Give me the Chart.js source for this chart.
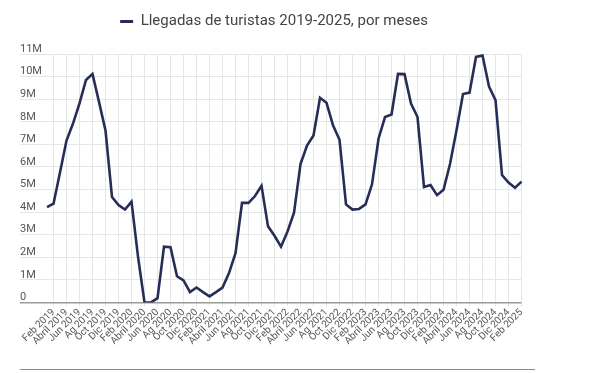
<!DOCTYPE html>
<html>
<head>
<meta charset="utf-8">
<script src="https://cdn.jsdelivr.net/npm/chart.js@4.4.0/dist/chart.umd.min.js"></script>
<style>
    html, body { margin: 0; padding: 0; background: #fff; }
    #wrap { position: absolute; left: 0; top: 0; width: 530px; height: 347px; }
    #rule { position: absolute; left: 20px; top: 369px; width: 515px; height: 1px; background: #8c8c8c; }
</style>
</head>
<body>
<div id="wrap"><canvas id="chart"></canvas></div>
<div id="rule"></div>
<script>
// Months (Jan 2019 - Feb 2025), as labelled in the source (incl. its "Ag 2021" typo)
const months = [
    'Ene 2019', 'Feb 2019', 'Mar 2019', 'Abril 2019', 'May 2019', 'Jun 2019', 'Jul 2019', 'Ag 2019', 'Sep 2019', 'Oct 2019', 'Nov 2019', 'Dic 2019',
    'Ene 2020', 'Feb 2020', 'Mar 2020', 'Abril 2020', 'May 2020', 'Jun 2020', 'Jul 2020', 'Ag 2020', 'Sep 2020', 'Oct 2020', 'Nov 2020', 'Dic 2020',
    'Ene 2021', 'Feb 2021', 'Mar 2021', 'Abril 2021', 'May 2021', 'Jun 2021', 'Jul 2021', 'Ag 2021', 'Sep 2021', 'Oct 2021', 'Nov 2021', 'Dic 2021',
    'Ene 2022', 'Feb 2022', 'Mar 2022', 'Abril 2022', 'May 2022', 'Jun 2022', 'Jul 2022', 'Ag 2021', 'Sep 2022', 'Oct 2022', 'Nov 2022', 'Dic 2022',
    'Ene 2023', 'Feb 2023', 'Mar 2023', 'Abril 2023', 'May 2023', 'Jun 2023', 'Jul 2023', 'Ag 2023', 'Sep 2023', 'Oct 2023', 'Nov 2023', 'Dic 2023',
    'Ene 2024', 'Feb 2024', 'Mar 2024', 'Abril 2024', 'May 2024', 'Jun 2024', 'Jul 2024', 'Ag 2024', 'Sep 2024', 'Oct 2024', 'Nov 2024', 'Dic 2024',
    'Ene 2025', 'Feb 2025'
];

// Tourist arrivals, millions
const arrivals = [
    4.22, 4.37, 5.75, 7.17, 7.92, 8.81, 9.85, 10.12, 8.88, 7.62, 4.67, 4.31,
    4.11, 4.46, 2.03, 0.0, 0.0, 0.19, 2.47, 2.45, 1.16, 0.98, 0.46, 0.66,
    0.46, 0.27, 0.46, 0.66, 1.30, 2.18, 4.41, 4.41, 4.71, 5.16, 3.37, 2.95,
    2.47, 3.14, 3.97, 6.13, 6.95, 7.39, 9.06, 8.84, 7.84, 7.20, 4.34, 4.11,
    4.14, 4.34, 5.23, 7.25, 8.21, 8.32, 10.12, 10.11, 8.81, 8.21, 5.11, 5.20,
    4.75, 4.99, 6.13, 7.62, 9.23, 9.29, 10.87, 10.93, 9.56, 8.96, 5.64, 5.31,
    5.08, 5.35
];

const seriesName = 'Llegadas de turistas 2019-2025, por meses';
const lineColor = '#262e58';
const gridColor = '#e6e6e6';
const textColor = '#555';

// extra room under the legend
const legendMargin = {
    id: 'legendMargin',
    beforeInit(chart) {
        const fit = chart.legend.fit;
        chart.legend.fit = function() {
            fit.bind(chart.legend)();
            this.height += 15;
        };
    }
};

const ctx = document.getElementById('chart').getContext('2d');

new Chart(ctx, {
    type: 'line',
    data: {
        labels: months,
        datasets: [{
            label: seriesName,
            data: arrivals,
            borderColor: lineColor,
            backgroundColor: lineColor,
            borderWidth: 2.6,
            pointRadius: 0,
            tension: 0,
            fill: false
        }]
    },
    plugins: [legendMargin],
    options: {
        responsive: true,
        maintainAspectRatio: false,
        animation: false,
        layout: { padding: { left: 20, right: 2, top: 2, bottom: 0 } },
        plugins: {
            tooltip: { enabled: false },
            legend: {
                position: 'top',
                labels: {
                    boxWidth: 13,
                    boxHeight: 3,
                    color: '#444',
                    padding: 12,
                    font: { family: 'Roboto', size: 15 },
                    generateLabels: function(chart) {
                        const items = Chart.defaults.plugins.legend.labels.generateLabels(chart);
                        items.forEach(item => {
                            item.lineWidth = 0;
                            item.fillStyle = lineColor;
                        });
                        return items;
                    }
                }
            }
        },
        scales: {
            x: {
                border: { display: false },
                grid: {
                    color: c => (c.index % 2 === 1 ? gridColor : 'rgba(0,0,0,0)'),
                    tickLength: 4
                },
                ticks: {
                    autoSkip: false,
                    minRotation: 45,
                    maxRotation: 45,
                    padding: 0,
                    color: textColor,
                    font: { family: 'Roboto', size: 10 },
                    callback: function(value, index) {
                        return index % 2 === 1 ? this.getLabelForValue(value) : '';
                    }
                }
            },
            y: {
                min: 0,
                max: 11,
                border: { display: false },
                afterFit: function(scale) { scale.width = 27; },
                grid: {
                    color: c => (c.tick && c.tick.value === 0 ? '#9a9a9a' : gridColor),
                    lineWidth: c => (c.tick && c.tick.value === 0 ? 1.5 : 1),
                    tickLength: 27
                },
                ticks: {
                    stepSize: 1,
                    crossAlign: 'far',
                    labelOffset: -5,
                    color: textColor,
                    font: { family: 'Roboto', size: 11 },
                    callback: v => (v === 0 ? '0' : v + 'M')
                }
            }
        }
    }
});
</script>
</body>
</html>
